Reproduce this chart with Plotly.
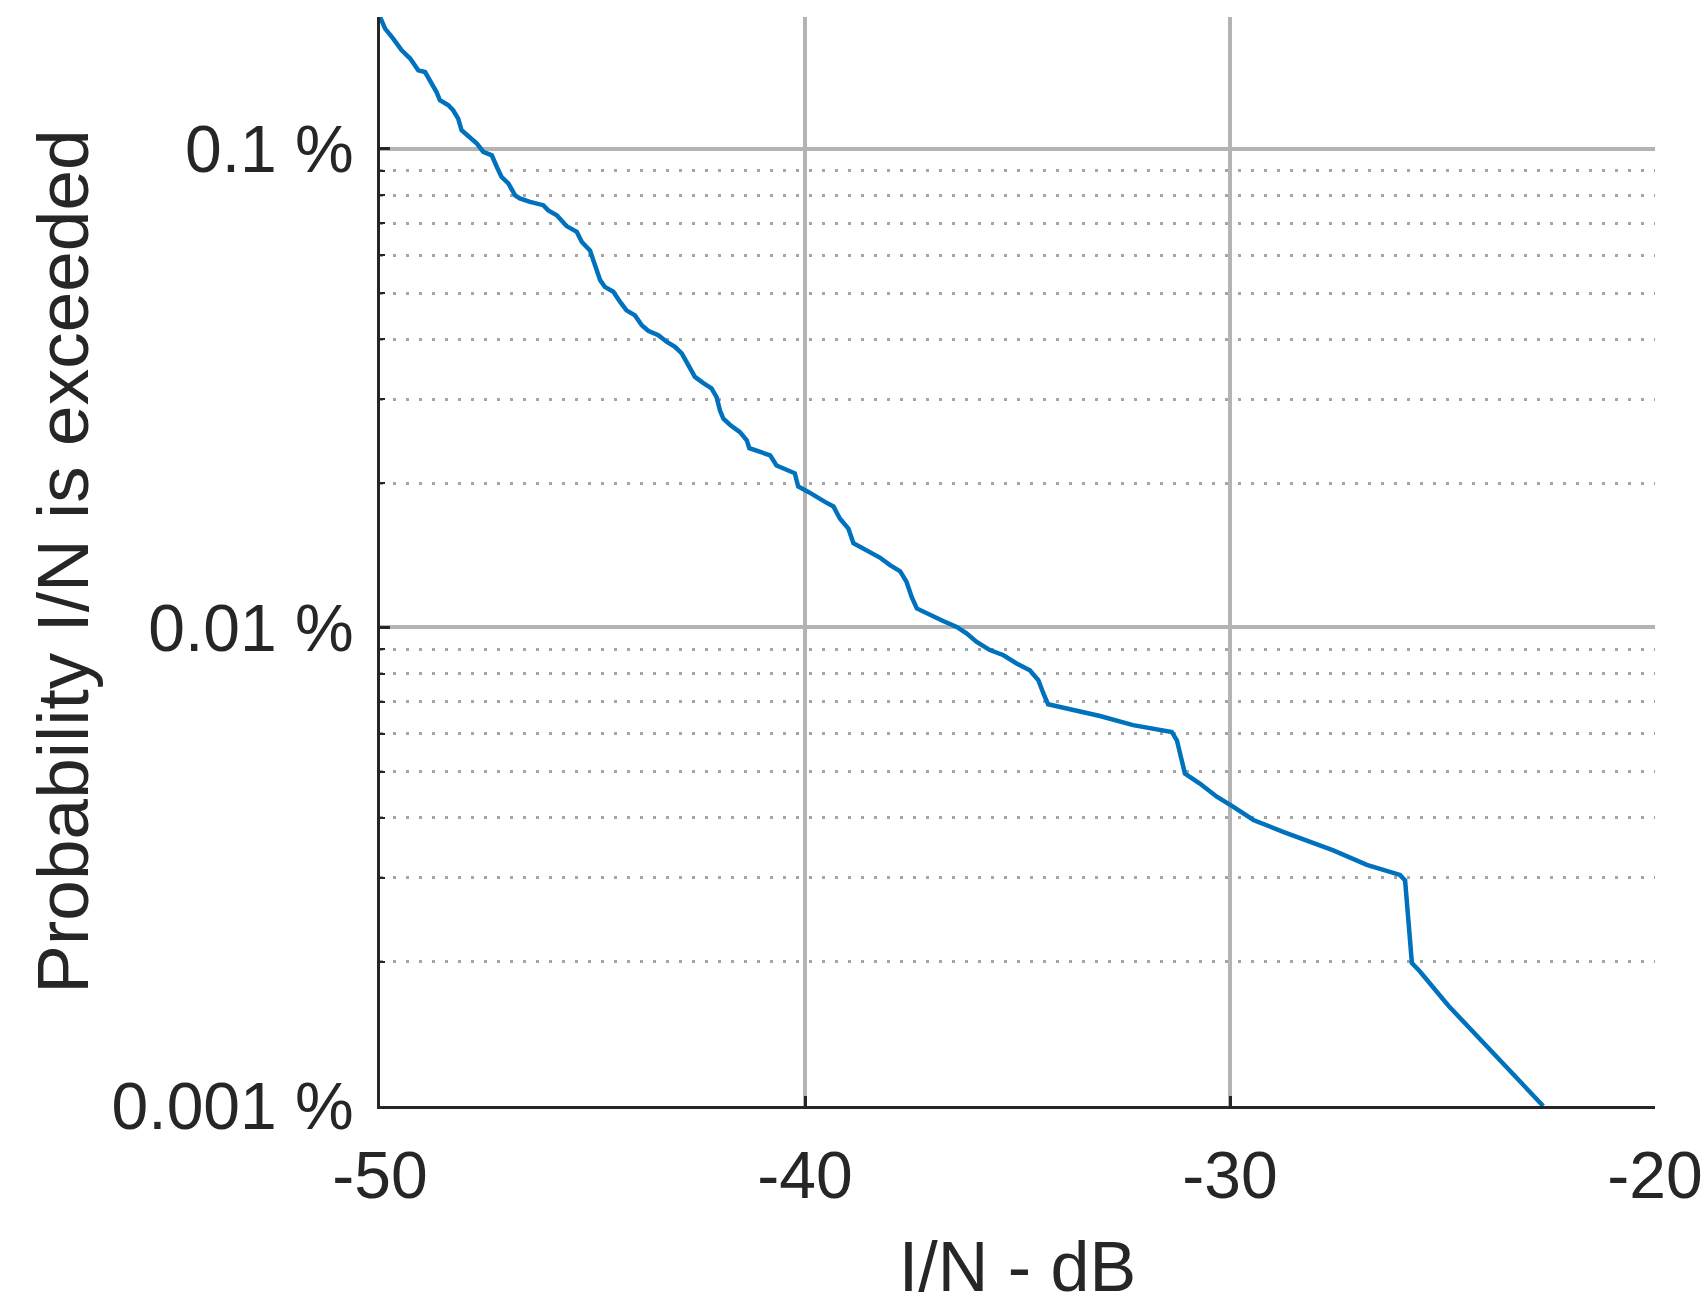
import plotly.graph_objects as go

# I/N in dB (x) and probability that I/N is exceeded, in percent (y)
in_db = [-50.0, -49.88, -49.69, -49.49, -49.29, -49.10, -48.94, -48.82, -48.67, -48.59,
         -48.39, -48.28, -48.16, -48.08, -47.92, -47.72, -47.57, -47.37, -47.25, -47.14,
         -46.98, -46.82, -46.71, -46.47, -46.16, -46.04, -45.84, -45.61, -45.37, -45.25,
         -45.06, -44.98, -44.92, -44.82, -44.71, -44.51, -44.35, -44.20, -44.00, -43.84,
         -43.69, -43.45, -43.25, -43.06, -42.90, -42.75, -42.59, -42.39, -42.20, -42.08,
         -42.00, -41.92, -41.76, -41.53, -41.37, -41.31, -41.06, -40.82, -40.67, -40.43,
         -40.24, -40.16, -39.92, -39.53, -39.33, -39.18, -38.98, -38.86, -38.63, -38.24,
         -38.00, -37.76, -37.61, -37.49, -37.37, -37.06, -36.75, -36.43, -36.20, -35.96,
         -35.65, -35.33, -35.02, -34.71, -34.51, -34.39, -34.28, -33.84, -33.06, -32.28,
         -31.37, -31.25, -31.18, -31.06, -30.71, -30.31, -29.92, -29.45, -28.75, -27.57,
         -26.78, -26.00, -25.88, -25.80, -25.72, -25.53, -24.86, -22.63]
prob_pct = [0.1888, 0.1785, 0.1701, 0.1608, 0.1545, 0.1460, 0.1448, 0.1391, 0.1315, 0.1264,
            0.1234, 0.1205, 0.1157, 0.1094, 0.1060, 0.1026, 0.0986, 0.0970, 0.0917, 0.0874,
            0.0847, 0.0800, 0.0788, 0.0775, 0.0763, 0.0744, 0.0727, 0.0690, 0.0671, 0.0639,
            0.0614, 0.0585, 0.0558, 0.0532, 0.0515, 0.0503, 0.0479, 0.0460, 0.0449, 0.0428,
            0.0417, 0.0408, 0.0395, 0.0386, 0.0374, 0.0353, 0.0334, 0.0324, 0.0316, 0.0303,
            0.0284, 0.0273, 0.0265, 0.0256, 0.0246, 0.0237, 0.0233, 0.0229, 0.0218, 0.0213,
            0.0210, 0.0197, 0.0192, 0.0183, 0.0179, 0.0169, 0.0161, 0.0150, 0.0146, 0.0140,
            0.0135, 0.0131, 0.01245, 0.01158, 0.01096, 0.01061, 0.01032, 0.01003, 0.00972, 0.00933,
            0.00897, 0.00875, 0.00841, 0.00814, 0.00776, 0.00728, 0.00691, 0.00677, 0.00653, 0.00625,
            0.00605, 0.00581, 0.00545, 0.00495, 0.00472, 0.00443, 0.00422, 0.00396, 0.00374, 0.00342,
            0.00319, 0.00304, 0.00296, 0.00245, 0.00199, 0.00191, 0.00162, 0.00100]

x_ticks = [-50, -40, -30, -20]
x_tick_labels = ["-50", "-40", "-30", "-20"]
y_ticks = [0.001, 0.01, 0.1]
y_tick_labels = ["0.001 %", "0.01 %", "0.1 %"]
y_minor = [m * d for d in (0.001, 0.01, 0.1) for m in range(2, 10) if m * d < 0.19]

FONT = "Liberation Sans, Arial, Helvetica, sans-serif"
TXT = "#262626"
GRID = "rgb(180,180,180)"

fig = go.Figure()
fig.add_trace(go.Scatter(x=in_db, y=prob_pct, mode="lines",
                         line=dict(color="#0072BD", width=4.5),
                         hoverinfo="skip", showlegend=False))

fig.update_layout(
    template="none",
    width=1705, height=1306,
    margin=dict(l=380, r=50, t=17, b=200, pad=0),
    paper_bgcolor="white", plot_bgcolor="white",
    font=dict(family=FONT, color=TXT),
    xaxis=dict(
        range=[-50, -20], tickmode="array", tickvals=x_ticks, ticktext=x_tick_labels,
        showgrid=True, gridcolor=GRID, gridwidth=3.5, zeroline=False,
        showline=True, linecolor=TXT, linewidth=3,
        ticks="inside", ticklen=10, tickwidth=3, tickcolor=TXT,
        tickfont=dict(size=66, family=FONT, color=TXT), ticklabelstandoff=10,
        title=dict(text="I/N - dB", font=dict(size=70, family=FONT, color=TXT), standoff=52),
        automargin=False,
    ),
    yaxis=dict(
        type="log", range=[-3, -0.7242], tickmode="array", tickvals=y_ticks, ticktext=y_tick_labels,
        showgrid=True, gridcolor=GRID, gridwidth=3.5, zeroline=False,
        showline=True, linecolor=TXT, linewidth=3,
        ticks="inside", ticklen=10, tickwidth=3, tickcolor=TXT,
        tickfont=dict(size=66, family=FONT, color=TXT), ticklabelstandoff=10,
        minor=dict(tickmode="array", tickvals=y_minor, ticks="inside", ticklen=5, tickwidth=2,
                   tickcolor=TXT, showgrid=True, gridcolor="rgb(165,165,165)", gridwidth=3,
                   griddash="3px,10px"),
        title=dict(text="Probability I/N is exceeded", font=dict(size=73, family=FONT, color=TXT),
                   standoff=0),
        automargin=False,
    ),
)

fig.write_html("out.html")
